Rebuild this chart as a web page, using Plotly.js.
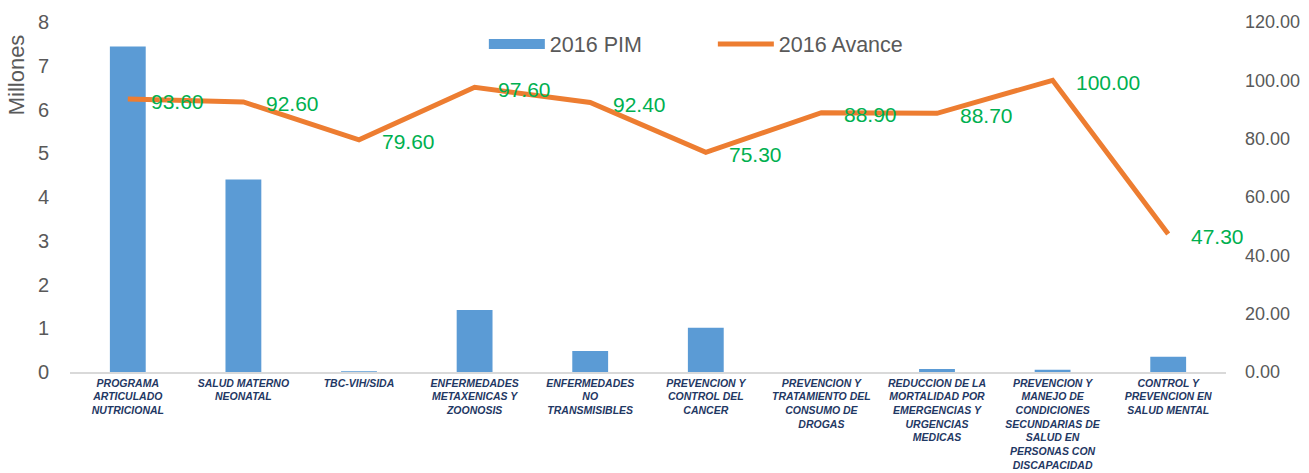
<!DOCTYPE html>
<html>
<head>
<meta charset="utf-8">
<script src="https://cdn.plot.ly/plotly-3.0.1.min.js"></script>
<style>
html,body{margin:0;padding:0;background:#fff;}
#chart{width:1309px;height:473px;}
</style>
</head>
<body>
<div id="chart"></div>
<script>
var categories = [
  "PROGRAMA<br>ARTICULADO<br>NUTRICIONAL",
  "SALUD MATERNO<br>NEONATAL",
  "TBC-VIH/SIDA",
  "ENFERMEDADES<br>METAXENICAS Y<br>ZOONOSIS",
  "ENFERMEDADES<br>NO<br>TRANSMISIBLES",
  "PREVENCION Y<br>CONTROL DEL<br>CANCER",
  "PREVENCION Y<br>TRATAMIENTO DEL<br>CONSUMO DE<br>DROGAS",
  "REDUCCION DE LA<br>MORTALIDAD POR<br>EMERGENCIAS Y<br>URGENCIAS<br>MEDICAS",
  "PREVENCION Y<br>MANEJO DE<br>CONDICIONES<br>SECUNDARIAS DE<br>SALUD EN<br>PERSONAS CON<br>DISCAPACIDAD",
  "CONTROL Y<br>PREVENCION EN<br>SALUD MENTAL"
];
var pim2016 = [7.44, 4.40, 0.015, 1.42, 0.48, 1.01, 0, 0.07, 0.05, 0.35];
var avance2016 = [93.60, 92.60, 79.60, 97.60, 92.40, 75.30, 88.90, 88.70, 100.00, 47.30];
var leftTicks = [0, 1, 2, 3, 4, 5, 6, 7, 8];
var rightTicks = [0, 20, 40, 60, 80, 100, 120];
var seriesNames = ["2016 PIM", "2016 Avance"];

var gray = "#595959";
var blue = "#5B9BD5";
var orange = "#ED7D31";
var baseFont = "Liberation Sans, Arial, sans-serif";

var traces = [
  {
    type: "bar",
    name: seriesNames[0],
    x: categories,
    y: pim2016,
    marker: {color: blue},
    width: 0.31,
    showlegend: false,
    legendgroup: "pim",
    hoverinfo: "skip"
  },
  {
    // legend entry for the bars (wide swatch like the original)
    type: "scatter",
    mode: "lines",
    name: seriesNames[0],
    x: [null], y: [null],
    legendgroup: "pim",
    line: {color: blue, width: 10},
    hoverinfo: "skip"
  },
  {
    type: "scatter",
    mode: "lines",
    name: seriesNames[1],
    x: categories,
    y: avance2016,
    yaxis: "y2",
    line: {color: orange, width: 5},
    hoverinfo: "skip"
  }
];

var annotations = avance2016.map(function (v, i) {
  return {
    x: categories[i], y: v, xref: "x", yref: "y2",
    text: v.toFixed(2), showarrow: false,
    xanchor: "left", yanchor: "middle",
    xshift: 21, yshift: -2,
    font: {family: baseFont, size: 21, color: "#00B050"}
  };
});
annotations.push({
  xref: "paper", yref: "paper", x: -0.046, y: 0.85,
  text: "Millones", showarrow: false, textangle: -90,
  xanchor: "center", yanchor: "middle",
  font: {family: baseFont, size: 22, color: gray}
});

var layout = {
  width: 1309, height: 473,
  margin: {l: 70, r: 83, t: 22, b: 101, pad: 0},
  paper_bgcolor: "#fff", plot_bgcolor: "#fff",
  font: {family: baseFont, color: gray},
  showlegend: true,
  legend: {
    orientation: "h", x: 0.358, xanchor: "left", y: 0.937, yanchor: "middle",
    font: {size: 21.5, color: gray}, bgcolor: "rgba(0,0,0,0)",
    entrywidth: 158, entrywidthmode: "pixels", itemwidth: 56,
    traceorder: "normal"
  },
  xaxis: {
    type: "category", range: [-0.5, 9.5],
    showgrid: false, zeroline: false,
    showline: true, linecolor: "#D9D9D9", linewidth: 2,
    ticks: "", tickangle: 0, automargin: false,
    tickfont: {family: baseFont, size: 10.5, color: "#1F3864", weight: "bold", style: "italic"}
  },
  yaxis: {
    range: [0, 8], tickvals: leftTicks, ticktext: leftTicks.map(String),
    showgrid: false, zeroline: false, showline: false, ticks: "",
    ticklabelstandoff: 20, automargin: false,
    tickfont: {family: baseFont, size: 20, color: gray}
  },
  yaxis2: {
    overlaying: "y", side: "right",
    range: [0, 120], tickvals: rightTicks, ticktext: rightTicks.map(function (t) { return t.toFixed(2); }),
    showgrid: false, zeroline: false, showline: false, ticks: "",
    ticklabelstandoff: 18, automargin: false,
    tickfont: {family: baseFont, size: 18, color: gray}
  },
  annotations: annotations
};

Plotly.newPlot("chart", traces, layout, {staticPlot: true, displayModeBar: false});
</script>
</body>
</html>
